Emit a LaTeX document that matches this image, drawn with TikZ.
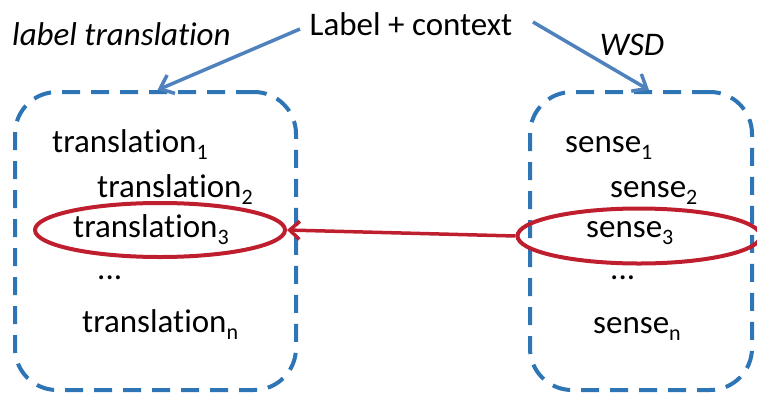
\documentclass[tikz,border=0pt]{standalone}
\usepackage{fontspec}
\setmainfont[Ligatures={NoCommon}]{Carlito}
\usetikzlibrary{shapes.geometric,arrows.meta}
\definecolor{boxblue}{RGB}{46,117,182}
\definecolor{arrblue}{RGB}{79,129,189}
\definecolor{ellred}{RGB}{190,30,45}
\tikzset{
  dbox/.style={draw=boxblue, line width=4pt, dash pattern=on 18pt off 11pt, rounded corners=42pt, inner sep=0pt},
  txt/.style={anchor=base west, inner sep=0pt, font=\fontsize{33}{38}\selectfont},
  hdr/.style={inner sep=0pt, font=\fontsize{33}{38}\selectfont},
  ell/.style={ellipse, draw=ellred, line width=4pt, inner sep=0pt},
  barr/.style={draw=arrblue, line width=3.5pt, -{Straight Barb[length=12pt,width=20pt,line width=3.5pt]}},
  rarr/.style={draw=ellred, line width=3.5pt, -{Straight Barb[length=10pt,width=18pt,line width=3.5pt]}}
}
\newcommand{\sbs}[1]{\raisebox{-7pt}{\fontsize{22}{24}\selectfont #1}}
\begin{document}
\begin{tikzpicture}[x=1pt,y=-1pt]
\useasboundingbox (0,0) rectangle (757,394);
% boxes
\node[dbox, minimum width=281pt, minimum height=298pt] (lbox) at (155.5,241) {};
\node[dbox, minimum width=222pt, minimum height=298pt] (rbox) at (641,241) {};
% header texts
\node[hdr] (ctx) at (411,24) {Label + context};
\node[hdr, font=\fontsize{33}{38}\selectfont\itshape, anchor=west] (lt) at (12,34) {label translation};
\node[hdr, font=\fontsize{33}{38}\selectfont\itshape] (wsd) at (632,45) {WSD};
% left items
\node[txt] (t1) at (52,152) {translation\sbs{1}};
\node[txt] (t2) at (97,197) {translation\sbs{2}};
\node[txt] (t3) at (73,237) {translation\sbs{3}};
\node[txt] (td) at (97,279) {...};
\node[txt] (tn) at (82,332) {translation\sbs{n}};
% right items
\node[txt] (s1) at (565,152) {sense\sbs{1}};
\node[txt] (s2) at (610,197) {sense\sbs{2}};
\node[txt] (s3) at (586,237) {sense\sbs{3}};
\node[txt] (sd) at (610,279) {...};
\node[txt] (sn) at (593,333) {sense\sbs{n}};
% ellipses
\node[ell, minimum width=250pt, minimum height=54pt] (e1) at (160,230) {};
\node[ell, minimum width=243pt, minimum height=55pt] (e2) at (639,236) {};
% arrows
\coordinate (ca) at (300,29);
\coordinate (cb) at (533,22);
\draw[barr] (ca) -- ([xshift=2pt]lbox.north);
\draw[barr] (cb) -- ([xshift=8pt]rbox.north);
\draw[rarr] (e2.west) -- (e1.east);
\end{tikzpicture}
\end{document}
